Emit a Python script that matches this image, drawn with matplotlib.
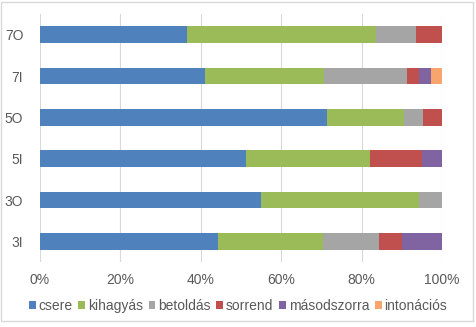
import matplotlib
matplotlib.use("Agg")
import matplotlib.pyplot as plt
from matplotlib.patches import Rectangle
import numpy as np

# csoportok (alulról felfelé) és hibatípusok aránya, %
groups = ["3I", "3O", "5I", "5O", "7I", "7O"]
categories = ["csere", "kihagyás", "betoldás", "sorrend", "másodszorra", "intonációs"]
csere       = [44.3, 55.0, 51.2, 71.4, 41.0, 36.6]
kihagyas    = [26.1, 39.3, 30.9, 19.2, 29.6, 47.0]
betoldas    = [13.9,  5.7,  0.0,  4.7, 20.7,  9.9]
sorrend     = [ 5.8,  0.0, 13.0,  4.7,  2.9,  6.5]
masodszorra = [ 9.9,  0.0,  4.9,  0.0,  3.1,  0.0]
intonacios  = [ 0.0,  0.0,  0.0,  0.0,  2.7,  0.0]
colors = ["#4F81BD", "#9BBB59", "#A5A5A5", "#C0504D", "#8064A2", "#F8A46C"]

series = [csere, kihagyas, betoldas, sorrend, masodszorra, intonacios]

W, H = 476, 327
fig = plt.figure(figsize=(W / 100, H / 100), dpi=100)
ax = fig.add_axes([40 / W, 1 - 262 / H, 402 / W, 248 / H])

y = np.arange(len(groups))
left = np.zeros(len(groups))
for name, vals, c in zip(categories, series, colors):
    vals = np.array(vals)
    ax.barh(y, vals, left=left, height=0.4, color=c, label=name, zorder=3)
    left += vals

ax.set_xlim(0, 100)
ax.set_ylim(-0.5, len(groups) - 0.5)
ax.set_xticks(np.arange(0, 101, 20))
ax.set_xticklabels([f"{v}%" for v in range(0, 101, 20)])
ax.set_yticks(y)
ax.set_yticklabels(groups)
ax.grid(axis="x", color="#D9D9D9", linewidth=0.8, zorder=0)
for s in ax.spines.values():
    s.set_visible(False)
ax.tick_params(length=0, labelsize=10, colors="#595959", pad=8)
ax.tick_params(axis="y", pad=12)
for lbl in ax.get_xticklabels() + ax.get_yticklabels():
    lbl.set_fontfamily("Liberation Sans")

fig.legend(loc="center", bbox_to_anchor=(0.5, 1 - 306 / H), ncol=6, frameon=False,
           handlelength=0.5, handleheight=0.5, handletextpad=0.2, columnspacing=0.4,
           prop={"family": "Liberation Sans", "size": 10}, labelcolor="#595959")

# keret a diagram körül
fig.patches.append(Rectangle((1 / W, 1 - 321 / H), 472 / W, 319 / H, transform=fig.transFigure,
                             fill=False, edgecolor="#D9D9D9", linewidth=1))

fig.savefig("out.png", dpi=100)
